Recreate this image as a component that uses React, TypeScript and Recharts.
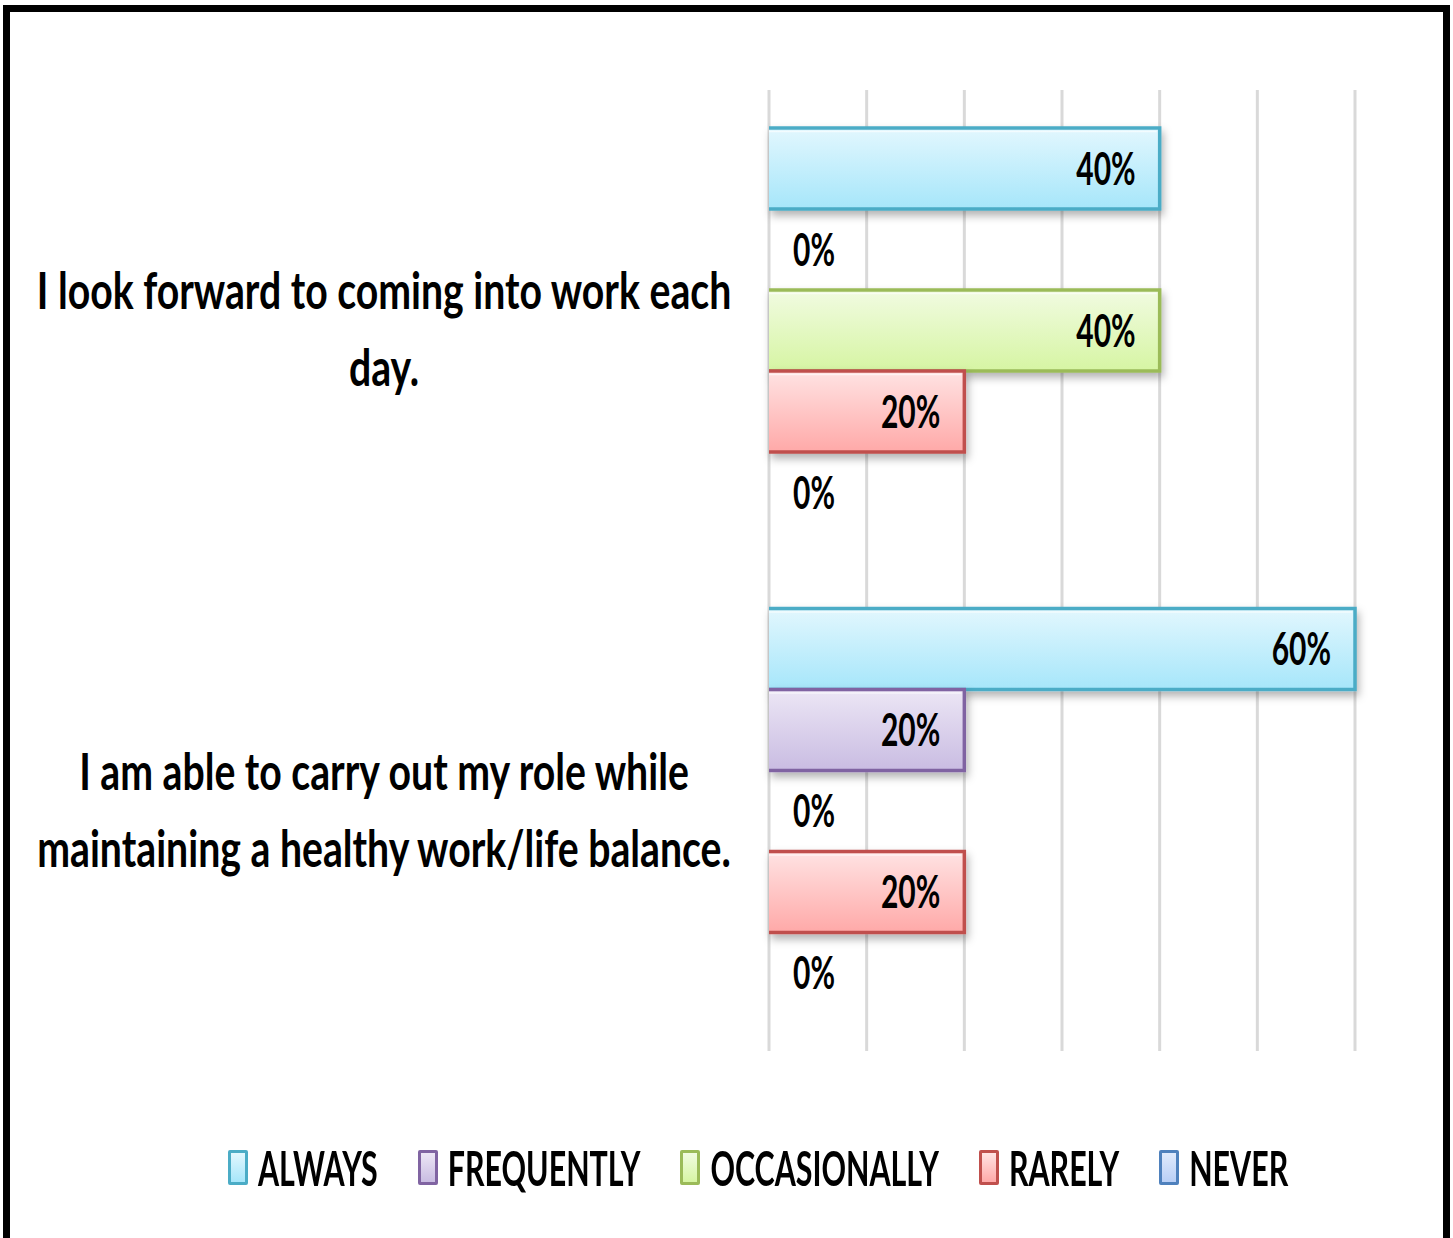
import React from 'react';
import {
    BarChart,
    Bar,
    XAxis,
    YAxis,
    CartesianGrid,
    LabelList
} from 'recharts';

const categories = [
    'I look forward to coming into work each day.',
    'I am able to carry out my role while maintaining a healthy work/life balance.'
];
// how the category text wraps in the original
const categoryLines = [
    ['I look forward to coming into work each', 'day.'],
    ['I am able to carry out my role while', 'maintaining a healthy work/life balance.']
];

const seriesNames = ['ALWAYS', 'FREQUENTLY', 'OCCASIONALLY', 'RARELY', 'NEVER'];
const always = [40, 60];
const frequently = [0, 20];
const occasionally = [40, 0];
const rarely = [20, 20];
const never = [0, 0];
const valueTicks = [0, 10, 20, 30, 40, 50, 60];

const seriesValues = [always, frequently, occasionally, rarely, never];
const seriesKeys = ['always', 'frequently', 'occasionally', 'rarely', 'never'];
const seriesStyles = [
    { top: '#e2f7fe', bottom: '#a6e6fa', stroke: '#4bacc6' },
    { top: '#ece6f5', bottom: '#c9bce2', stroke: '#8064a2' },
    { top: '#f1fbe1', bottom: '#d6f5a3', stroke: '#9bbb59' },
    { top: '#ffe3e3', bottom: '#ffa9a8', stroke: '#c0504d' },
    { top: '#e0eafc', bottom: '#b9cff6', stroke: '#4f81bd' }
];

const chartData = categories.map((name, i) => {
    const row: Record<string, any> = { name };
    seriesKeys.forEach((k, s) => { row[k] = seriesValues[s][i]; });
    return row;
});

const FONT = 'Lato, "Open Sans", sans-serif';
const W = 1453;
const H = 1238;

function StretchText({ x, y, size, sy, anchor, children }: any) {
    return (
        <text
            transform={`translate(${x},${y}) scale(1,${sy})`}
            x={0}
            y={0}
            textAnchor={anchor}
            fontFamily={FONT}
            fontWeight={700}
            fontSize={size}
            fill="#000"
        >
            {children}
        </text>
    );
}

function CategoryTick(props: any) {
    const { x, y, payload } = props;
    const idx = categories.indexOf(payload.value);
    const lines = categoryLines[idx] || [payload.value];
    const cx = x - 383;
    return (
        <g>
            {lines.map((line, i) => (
                <StretchText key={i} x={cx} y={y - 21 + i * 77} size={39.2} sy={1.33} anchor="middle">
                    {line}
                </StretchText>
            ))}
        </g>
    );
}

function EmptyTick() {
    return <g />;
}

function makeShape(s: number) {
    const st = seriesStyles[s];
    return (props: any) => {
        const { x, y, width, height } = props;
        if (!width || width <= 0.5) return <g />;
        return (
            <g filter="url(#barShadow)">
                <rect x={x} y={y} width={width} height={height} fill={`url(#grad${s})`} />
                <line x1={x} x2={x + width - 3} y1={y + 3.5} y2={y + 3.5} stroke="#ffffff" strokeOpacity={0.6} strokeWidth={1.5} />
                <path
                    d={`M${x},${y} H${x + width} V${y + height} H${x}`}
                    fill="none"
                    stroke={st.stroke}
                    strokeWidth={3.5}
                />
            </g>
        );
    };
}

function ValueLabel(props: any) {
    const { x, y, width, height, value } = props;
    const cy = y + height / 2 + 16;
    if (!value) {
        return <StretchText x={x + 24} y={cy} size={30} sy={1.5} anchor="start">{`${value}%`}</StretchText>;
    }
    return <StretchText x={x + width - 24} y={cy} size={30} sy={1.5} anchor="end">{`${value}%`}</StretchText>;
}

function ChartLegend() {
    return (
        <div
            style={{
                position: 'absolute',
                left: 228,
                top: 1150,
                display: 'flex',
                alignItems: 'center',
                gap: 40,
                fontFamily: FONT,
                fontWeight: 700,
                fontSize: 30.4
            }}
        >
            {seriesNames.map((n, s) => (
                <div key={n} style={{ display: 'flex', alignItems: 'center', gap: 10 }}>
                    <div
                        style={{
                            width: 20,
                            height: 35,
                            boxSizing: 'border-box',
                            border: `3px solid ${seriesStyles[s].stroke}`,
                            borderRadius: 2,
                            background: `linear-gradient(${seriesStyles[s].top}, ${seriesStyles[s].bottom})`
                        }}
                    />
                    <span style={{ display: 'inline-block', transform: 'scale(1,1.57)', lineHeight: '35px' }}>{n}</span>
                </div>
            ))}
        </div>
    );
}

export default function App() {
    return (
        <div style={{ position: 'relative', width: W, height: H, overflow: 'hidden', background: '#fff' }}>
            <style>{'body{margin:0}'}</style>
            <div
                style={{
                    position: 'absolute',
                    left: 3,
                    top: 5,
                    width: 1447,
                    height: 1260,
                    border: '7px solid #000',
                    boxSizing: 'border-box'
                }}
            />
            <div style={{ position: 'absolute', left: 0, top: 0 }}>
                <BarChart
                    width={W}
                    height={H}
                    data={chartData}
                    layout="vertical"
                    margin={{ top: 90, right: 98, bottom: 186, left: 0 }}
                    barCategoryGap={38}
                    barGap={0}
                >
                    <defs>
                        {seriesStyles.map((st, s) => (
                            <linearGradient key={s} id={`grad${s}`} x1="0" y1="0" x2="0" y2="1">
                                <stop offset="0%" stopColor={st.top} />
                                <stop offset="100%" stopColor={st.bottom} />
                            </linearGradient>
                        ))}
                        <filter id="barShadow" x="-5%" y="-20%" width="115%" height="160%">
                            <feDropShadow dx={2} dy={5} stdDeviation={4} floodColor="#000" floodOpacity={0.3} />
                        </filter>
                    </defs>
                    <CartesianGrid horizontal={false} stroke="#d9d9d9" strokeWidth={3} />
                    <XAxis
                        type="number"
                        domain={[0, 60]}
                        ticks={valueTicks}
                        interval={0}
                        tick={<EmptyTick />}
                        axisLine={false}
                        tickLine={false}
                        height={1}
                    />
                    <YAxis
                        type="category"
                        dataKey="name"
                        width={769}
                        axisLine={false}
                        tickLine={false}
                        tickSize={0}
                        tick={<CategoryTick />}
                    />
                    {seriesKeys.map((k, s) => (
                        <Bar
                            key={k}
                            dataKey={k}
                            name={seriesNames[s]}
                            fill={`url(#grad${s})`}
                            shape={makeShape(s)}
                            isAnimationActive={false}
                        >
                            <LabelList dataKey={k} content={<ValueLabel />} />
                        </Bar>
                    ))}
                </BarChart>
            </div>
            <ChartLegend />
        </div>
    );
}
